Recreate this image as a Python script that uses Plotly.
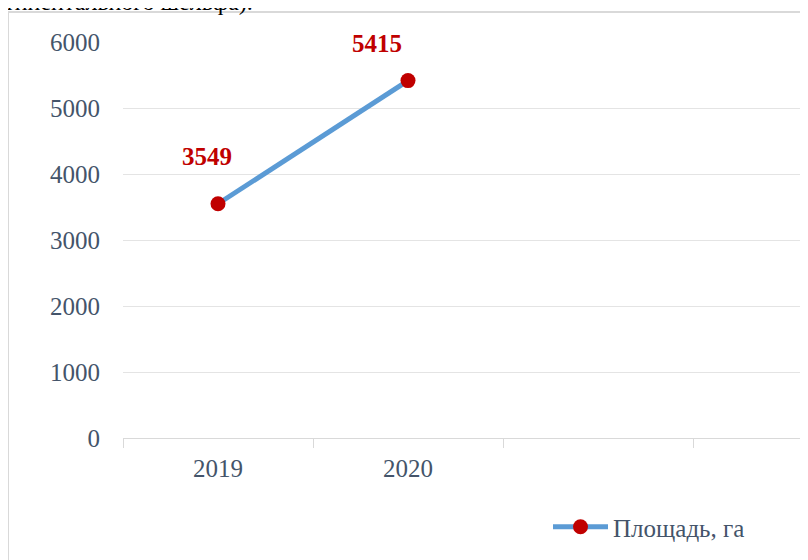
import plotly.graph_objects as go

categories = ["2019", "2020", " ", "  "]
years = ["2019", "2020"]
area = [3549, 5415]
y_ticks = [0, 1000, 2000, 3000, 4000, 5000, 6000]
series_name = "Площадь, га"
caption_tail = "континентального шельфа)."

# page has an 8px body margin, so the figure is shifted by 8px
OFF = 8
W, H = 808 - OFF, 560 - OFF
ML, MR, MT, MB = 123 - OFF, 0, 42 - OFF, 122
pw = W - ML - MR
ph = H - MT - MB

fig = go.Figure()
fig.add_trace(go.Scatter(
    x=years, y=area, mode="lines+markers", name=series_name,
    line=dict(color="#5b9bd5", width=5),
    marker=dict(color="#c00000", size=15, line=dict(width=0)),
))

label_shifts = [(-11, 47), (-31, 37)]
for xv, yv, (dx, dy) in zip(years, area, label_shifts):
    fig.add_annotation(x=categories.index(xv), y=yv, text=f"<b>{yv}</b>", showarrow=False,
                       xshift=dx, yshift=dy,
                       font=dict(family="Liberation Serif", size=25, color="#c00000"))

# cut-off caption at top of page
fig.add_annotation(xref="paper", yref="paper", x=(255 - 123) / pw, y=(MT + ph + 6) / ph,
                   xanchor="right", yanchor="middle", showarrow=False,
                   text=caption_tail,
                   font=dict(family="Liberation Serif", size=24, color="#000000"))

# chart frame
fig.add_shape(type="rect", xref="paper", yref="paper",
              x0=(8 - 123) / pw, x1=1.2, y0=-0.5, y1=(42 + ph - 12) / ph,
              line=dict(color="#d9d9d9", width=2), fillcolor="rgba(0,0,0,0)", layer="below")

fig.update_layout(
    width=W, height=H,
    margin=dict(l=ML, r=MR, t=MT, b=MB, pad=0),
    paper_bgcolor="white", plot_bgcolor="white",
    font=dict(family="Liberation Serif", size=25, color="#44546a"),
    showlegend=True,
    legend=dict(orientation="h", x=(548 - 123) / pw, y=(42 + ph - 527) / ph,
                xanchor="left", yanchor="middle", itemwidth=55,
                font=dict(family="Liberation Serif", size=25, color="#44546a"),
                bgcolor="rgba(0,0,0,0)"),
    xaxis=dict(type="category", categoryorder="array", categoryarray=categories,
               range=[-0.5, -0.5 + pw / 190.0],
               tickson="boundaries", ticks="outside", ticklen=9, tickcolor="#d9d9d9",
               showgrid=False, showline=True, linecolor="#d9d9d9", linewidth=1,
               zeroline=False, ticklabelstandoff=8,
               tickfont=dict(family="Liberation Serif", size=25, color="#44546a")),
    yaxis=dict(range=[0, 6000], tickvals=y_ticks, ticktext=[str(v) for v in y_ticks],
               showgrid=True, gridcolor="#e4e4e4", gridwidth=1,
               zeroline=False, showline=False, ticks="", ticklabelstandoff=22,
               tickfont=dict(family="Liberation Serif", size=25, color="#44546a")),
)

fig.write_html("out.html")
